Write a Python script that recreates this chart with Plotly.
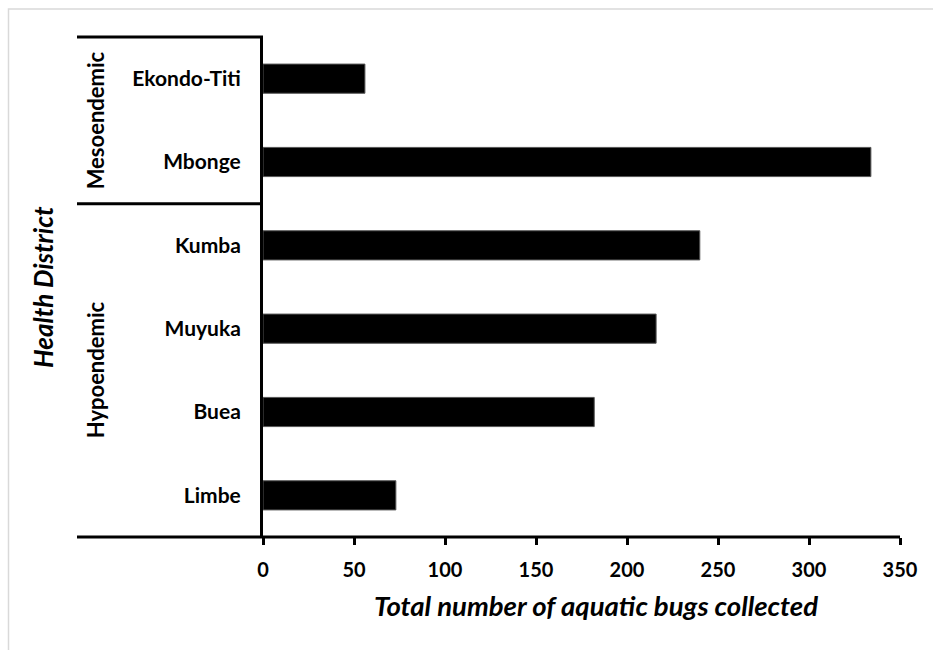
import plotly.graph_objects as go

# Health districts (bottom to top) and number of aquatic bugs collected
districts = ["Limbe", "Buea", "Muyuka", "Kumba", "Mbonge", "Ekondo-Titi"]
bug_counts = [73, 182, 216, 240, 334, 56]
x_ticks = [0, 50, 100, 150, 200, 250, 300, 350]

# Endemicity groups: label and the districts they span
groups = [("Hypoendemic", ["Limbe", "Buea", "Muyuka", "Kumba"]),
          ("Mesoendemic", ["Mbonge", "Ekondo-Titi"])]

W, H = 933, 650
L, R, T, B = 263, 33, 37, 113
PW, PH = W - L - R, H - T - B


def px_x(px):
    return (px - L) / PW


def px_y(py):
    return (H - B - py) / PH


FONT = "Lato"

fig = go.Figure(go.Bar(
    y=districts, x=bug_counts, orientation="h",
    marker=dict(color="black", line=dict(color="#555555", width=1)),
    width=0.35,
))

fig.update_layout(
    width=W, height=H,
    margin=dict(l=L, r=R, t=T, b=B),
    paper_bgcolor="white", plot_bgcolor="white",
    showlegend=False,
    font=dict(family=FONT, color="black"),
    xaxis=dict(
        range=[0, 350], tickvals=x_ticks, ticks="outside", ticklen=7,
        tickwidth=3, tickcolor="black", showgrid=False, zeroline=False,
        showline=False, ticklabelstandoff=8,
        tickfont=dict(family=FONT, size=20, color="black", weight="bold"),
    ),
    yaxis=dict(
        categoryorder="array", categoryarray=districts,
        range=[-0.5, len(districts) - 0.5],
        showgrid=False, zeroline=False, ticks="",
        showline=True, linecolor="black", linewidth=3,
        ticklabelstandoff=15,
        tickfont=dict(family=FONT, size=21, color="black", weight="bold"),
    ),
)

shapes = []
# chart area border
shapes.append(dict(type="rect", xref="paper", yref="paper",
                   x0=px_x(8.5), x1=px_x(W + 20), y0=px_y(H + 20), y1=px_y(9),
                   line=dict(color="#d9d9d9", width=1.5), fillcolor="rgba(0,0,0,0)",
                   layer="below"))
# x axis line extended under the group column
shapes.append(dict(type="line", xref="paper", yref="paper",
                   x0=px_x(77), x1=1, y0=0, y1=0,
                   line=dict(color="black", width=3)))
# group separators (top edge of each group)
n = len(districts)
for name, members in groups:
    top_idx = max(districts.index(m) for m in members)
    y_top = (top_idx + 1) / n
    shapes.append(dict(type="line", xref="paper", yref="paper",
                       x0=px_x(77), x1=0, y0=y_top, y1=y_top,
                       line=dict(color="black", width=3)))
fig.update_layout(shapes=shapes)

annotations = []
for name, members in groups:
    idx = [districts.index(m) for m in members]
    y_mid = (min(idx) + max(idx) + 1) / 2 / n
    annotations.append(dict(text=f"<b>{name}</b>", xref="paper", yref="paper",
                            x=px_x(95), y=y_mid, textangle=-90, showarrow=False,
                            font=dict(family=FONT, size=22, color="black"),
                            xanchor="center", yanchor="middle"))
# axis titles
annotations.append(dict(text="<b><i>Health District</i></b>", xref="paper",
                        yref="paper", x=px_x(43), y=px_y(287), textangle=-90,
                        showarrow=False, xanchor="center", yanchor="middle",
                        font=dict(family=FONT, size=26, color="black")))
annotations.append(dict(text="<b><i>Total number of aquatic bugs collected</i></b>",
                        xref="paper", yref="paper", x=px_x(596), y=px_y(605),
                        showarrow=False, xanchor="center", yanchor="middle",
                        font=dict(family=FONT, size=27.5, color="black")))
fig.update_layout(annotations=annotations)

fig.write_html("out.html")
